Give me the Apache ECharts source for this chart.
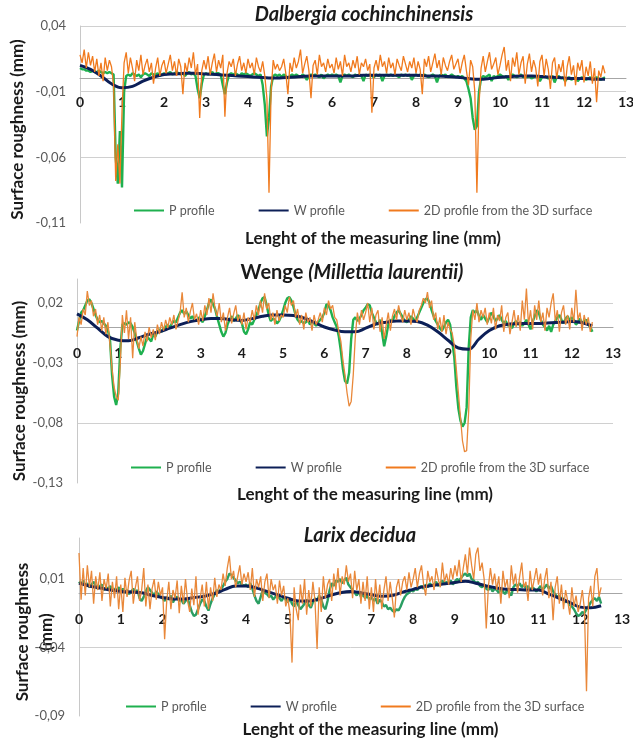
<!DOCTYPE html>
<html><head><meta charset="utf-8">
<script src="https://cdn.jsdelivr.net/npm/echarts@6/dist/echarts.min.js"></script>
<style>html,body{margin:0;padding:0;background:#fff}#c{width:633px;height:745px}</style>
</head><body><div id="c"></div><script>
// ---------- DATA (surface heights in micrometres) ----------
// P profile and 2D profile sampled every 0.05 mm (one row = 1 mm), W profile every 0.25 mm
const sampleStepMm = 0.05;
const waveStepMm = 0.25;
const seriesNames = ['P profile', 'W profile', '2D profile from the 3D surface'];
const chartTitles = ['Dalbergia cochinchinensis', 'Wenge (Millettia laurentii)', 'Larix decidua'];
const xTicks = [0, 1, 2, 3, 4, 5, 6, 7, 8, 9, 10, 11, 12, 13];
const yTicksDalbergia = [-0.11, -0.06, -0.01, 0.04];
const yTicksWenge = [-0.13, -0.08, -0.03, 0.02];
const yTicksLarix = [-0.09, -0.04, 0.01];

const dalbergiaP_um = [
 8,7,7,6,6,5,6,5,5,6,5,4,5,4,5,4,3,-60,-80,-40,
 -83,-10,2,3,2,4,3,2,3,1,3,4,3,2,4,3,3,4,2,3,
 4,3,4,5,3,4,5,4,3,4,2,4,5,3,4,2,-8,-15,-4,3,
 4,3,4,5,3,4,4,3,-5,-12,-3,3,4,3,4,3,2,4,3,4,
 3,2,3,4,3,2,3,-5,-20,-44,-30,-6,2,3,2,3,1,3,2,0,
 2,3,2,3,2,1,3,2,-1,2,3,2,3,2,1,3,0,2,3,2,
 3,2,3,2,-3,2,3,2,3,2,1,3,2,3,2,-2,3,2,3,2,
 1,3,2,3,-2,2,3,2,3,2,3,2,1,3,2,3,2,3,-1,2,
 3,2,3,2,3,2,1,2,3,2,-3,2,3,2,3,1,2,3,2,1,
 2,1,2,0,-2,-8,-15,-30,-39,-36,-10,0,2,1,2,3,-2,2,1,2,
 3,2,1,2,-1,2,3,2,1,2,3,1,2,1,2,0,1,2,1,-2,
 1,2,1,0,1,2,-3,1,2,0,1,-2,0,1,-1,0,1,-2,0,1,
 0,-1,0,1,-1,0,1,0,-1,0,1];
const dalbergiaW_um = [10,7,2,-4,-7,-6,-2,1,3,3.5, 4,4,3.5,3,2.5,2,1.5,1,0.5,0.5,
 1,1.5,2,2,2,2,2,2.5,2.5,2.5, 2.5,2.5,2.5,2,2,1.5,1,0,-0.5,0, 1,1.5,2,2,1.5,1,0.5,0,0,-0.5, -0.5];
const dalbergia2D_um = [
 18,12,22,8,20,10,17,5,15,2,12,-2,16,6,14,9,-5,-78,-50,-80,
 -25,12,20,4,16,8,-2,14,6,18,3,10,15,5,12,-4,8,16,2,10,
 14,4,11,18,6,13,2,15,9,-12,12,5,16,8,20,3,11,-30,6,14,
 7,17,3,12,19,5,14,8,18,-29,4,13,9,15,2,11,17,6,12,4,
 15,8,12,3,16,9,5,13,2,-15,-87,-10,14,7,11,6,9,15,4,-12,
 12,5,16,8,13,22,4,11,17,6,-15,10,14,3,18,9,12,5,15,8,
 11,4,16,7,13,2,18,9,12,5,14,8,17,3,12,9,15,6,11,-26,
 8,14,6,18,9,13,4,16,8,12,3,15,10,6,17,11,5,13,8,16,
 4,13,7,-12,15,9,17,5,12,19,8,14,3,16,10,6,13,18,7,11,
 15,4,12,18,6,-5,14,9,-10,-87,-20,8,17,5,13,20,7,11,16,3,
 10,18,24,6,14,-2,16,9,20,3,12,17,-4,11,19,5,14,8,-6,13,
 18,2,15,7,-8,12,16,0,11,5,14,-6,9,17,3,10,-5,12,6,14,
 -3,9,2,13,-4,8,-18,6,1,10,4];

const wengeP_um = [
 -3,5,12,14,18,22,23,20,15,10,6,4,5,3,1,-3,-10,-40,-58,-65,
 -55,-18,2,3,2,4,3,0,-5,-12,-18,-23,-20,-14,-8,-10,-12,-6,-8,-4,
 -2,-4,-1,0,2,-1,3,5,4,8,12,14,11,13,10,7,9,6,5,8,
 6,4,9,14,20,23,19,15,8,2,-4,-8,-5,2,6,9,5,7,10,6,
 3,-4,-6,-2,4,2,6,10,14,20,24,25,18,10,5,7,6,3,5,9,
 14,20,24,25,22,17,10,6,4,5,3,4,6,2,5,3,1,4,6,8,
 12,19,18,14,8,4,0,-8,-20,-35,-45,-47,-38,-10,6,8,5,7,10,14,
 16,19,18,12,8,4,2,6,-5,-16,-8,2,6,5,9,12,14,11,8,5,
 4,6,9,7,5,8,12,16,20,23,24,20,14,9,5,2,-1,-3,0,4,
 6,2,-12,-25,-50,-68,-78,-83,-80,-67,-17,8,14,12,14,9,6,10,7,4,
 8,12,9,5,7,10,6,3,5,1,2,-1,3,5,2,4,1,3,6,2,
 -2,4,9,14,12,6,2,0,-3,1,-4,2,5,8,10,6,3,7,9,5,
 8,6,2,4,7,3,5,6,2,0,-4];
const wengeW_um = [11,6,-1,-8,-11,-11.5,-9,-6,-4,-1, 2,4.5,6,7,7,6,5.5,7,9,10,
 10,9.5,7.5,4,0,-2.5,-4,-4,-1,2.5, 4,5,5,4.5,1.5,-4,-11,-17.5,-18.5,-10, -3,1,2.5,3,3,3,3.5,4,4.5,3.5, 1];
const wenge2D_um = [
 -8,8,2,15,10,30,18,22,9,15,2,10,-3,8,-6,4,-15,-35,-50,-58,
 -61,-30,10,-5,14,-10,8,-26,4,-10,-18,-8,-16,-4,-12,0,-9,-2,-11,2,
 -6,4,-3,6,-1,8,2,10,-2,5,12,29,8,16,4,13,20,6,11,2,
 14,5,18,10,24,12,28,15,9,20,4,12,-3,8,16,3,11,18,5,10,
 2,12,-2,8,4,14,6,18,10,22,12,28,15,20,6,12,2,14,5,10,
 8,18,12,25,18,22,8,15,2,10,-2,12,4,8,-3,10,2,6,12,4,
 16,10,22,15,18,8,6,-4,-12,-28,-40,-55,-66,-62,-40,-8,12,2,14,6,
 12,20,4,16,-2,10,14,-4,8,-10,2,12,-3,9,15,6,18,10,4,14,
 6,12,2,15,8,4,14,18,24,20,29,16,22,6,12,-2,8,-4,10,-6,
 4,-2,-5,-15,-35,-55,-75,-95,-104,-103,-70,-10,14,6,20,4,14,8,16,2,
 12,3,16,-2,10,5,18,-4,8,12,-6,4,14,0,10,-3,22,6,32,2,
 14,-2,18,6,22,4,12,-3,16,8,20,28,5,14,-4,12,18,2,10,-2,
 16,4,31,6,12,-3,10,2,8,-4,4];

const larixP_um = [
 8,6,9,5,7,4,6,8,5,3,5,6,2,4,3,5,1,3,2,4,
 1,3,0,2,-1,1,3,0,2,-4,-6,-3,1,4,2,0,-2,1,-1,-3,
 -4,-6,-3,-5,-2,-7,-4,-3,-6,-5,-8,-6,-4,-9,-14,-17,-16,-12,-8,-5,
 -6,-10,-13,-8,-4,-1,2,0,3,5,8,10,14,13,11,9,7,8,6,5,
 6,4,7,3,-2,-6,-8,-3,2,0,-1,-3,-2,-5,-3,-1,-4,-6,-3,-5,
 -7,-4,-8,-10,-6,-9,-12,-10,-8,-5,-9,-11,-7,-4,-6,-2,-5,-10,-12,-6,
 2,7,5,9,8,10,7,9,11,6,4,2,0,-2,1,-3,-1,-4,-2,-5,
 -3,-6,-4,-8,-5,-7,-10,-9,-12,-11,-13,-14,-12,-13,-10,-6,-3,-1,0,2,
 1,3,2,4,5,3,6,4,7,5,6,8,5,7,9,6,8,7,9,6,
 8,10,9,11,13,14,12,14,10,9,7,8,5,4,6,3,2,4,1,3,
 2,0,3,1,-1,2,0,-2,4,6,5,7,4,6,3,5,2,4,3,1,
 3,5,2,4,6,3,5,1,-1,-3,-2,-5,-4,-7,-6,-9,-10,-12,-15,-17,
 -16,-14,-15,-12,-10,-7,-5,-4,-6,-3,-8];
const larixW_um = [7,5,3.5,2,1,0.5,0,-2,-3.5,-4.5, -4.5,-3.5,-2.5,-0.5,2.5,5,5,3.5,1,-1.5,
 -4,-6,-6,-4.5,-2,0,1,0,-1.5,-2.5, -2,0.5,2.5,4.5,5.5,6.5,7.5,8.5,7,5, 3.5,2.5,2.3,2,2,-1,-4,-7,-10.5,-11, -9.5];
const larix2D_um = [
 29,-5,18,-2,20,4,16,-8,12,2,15,-6,10,3,14,-10,8,-4,12,-12,
 6,-14,11,-3,9,16,-8,4,12,-6,2,18,-10,6,-12,3,10,-5,8,-2,
 4,-34,-6,8,-12,2,-4,9,-15,5,-8,10,-6,-14,3,-9,12,-16,-4,6,
 -10,8,-12,4,-6,11,-3,6,2,14,5,18,27,10,16,4,12,20,6,14,
 8,15,2,18,-3,10,4,12,-6,8,14,-4,10,2,6,-8,9,-2,5,-10,
 -4,-15,-51,4,-12,-20,6,-8,10,-16,2,-10,8,-6,-41,4,-14,12,-4,6,
 10,-6,14,2,18,-2,12,6,20,8,14,-4,16,2,10,-8,8,-6,12,-12,
 4,-14,10,-8,6,-12,2,12,-6,8,-4,-18,4,10,-2,8,12,2,15,4,
 10,18,4,14,20,6,-2,16,8,12,2,18,10,4,22,8,14,6,18,10,
 20,12,24,8,18,28,14,33,20,10,28,33,16,22,10,-26,4,18,6,14,
 2,12,-8,16,4,10,-4,20,6,14,0,12,22,4,8,-6,16,2,10,18,
 6,14,-2,10,18,-4,8,-20,4,12,-8,6,-12,2,-6,-16,4,-10,-2,-14,
 -8,2,-12,-72,-4,5,-10,12,18,-3,4];

// ---------- CHART ----------
const FONT = 'Lato, "Open Sans", sans-serif';
const toPairs = (vals, step) => vals.map((v, i) => [Math.round(i * step * 100) / 100, v / 1000]);
const fmtY = v => v.toFixed(2).replace('.', ',');

const panels = [
  {P: dalbergiaP_um, W: dalbergiaW_um, D: dalbergia2D_um, yTicks: yTicksDalbergia, yMax: 0.04,
   grid: {left: 80, top: 26, width: 546, height: 197}, green: '#1fb04f', orange: '#f07a1e',
   titleX: 364, titleY: 4, xLabelMargin: 17, xNameGap: 150, yNameGap: 52, yNamePad: [0, 10, 0, 0],
   legendLeft: 133, legendTop: 204, yName: 'Surface roughness (mm)'},
  {P: wengeP_um, W: wengeW_um, D: wenge2D_um, yTicks: yTicksWenge, yMax: 0.04,
   grid: {left: 77, top: 279, width: 536, height: 204}, green: '#1fb04f', orange: '#e9883a',
   titleX: 352, titleY: 262, xLabelMargin: 19, xNameGap: 158, yNameGap: 47, yNamePad: [0, 20, 0, 0],
   legendLeft: 130, legendTop: 461, yName: 'Surface roughness (mm)'},
  {P: larixP_um, W: larixW_um, D: larix2D_um, yTicks: yTicksLarix, yMax: 0.04,
   grid: {left: 79, top: 538, width: 543, height: 178}, green: '#2a9e62', orange: '#e9883a',
   titleX: 360, titleY: 525, xLabelMargin: 20, xNameGap: 127, yNameGap: 20, yNamePad: [0, 10, 0, 0],
   legendLeft: 125, legendTop: 700, yName: 'Surface roughness\n(mm)'}
];

const option = {
  animation: false,
  backgroundColor: '#fff',
  title: [], legend: [], grid: [], xAxis: [], yAxis: [], series: []
};

panels.forEach((p, k) => {
  const isFirst = k === 0;
  const yMin = p.yTicks[0];
  // place the horizontal axis line on y = 0 (as in the original chart)
  const zeroOffset = -p.grid.height * (0 - yMin) / (p.yMax - yMin);
  option.grid.push(Object.assign({outerBoundsMode: 'none', containLabel: false}, p.grid));
  const t = {left: p.titleX, top: p.titleY, textAlign: 'center', padding: 0};
  if (k === 1) {
    t.text = '{a|Wenge }{b|(Millettia laurentii)}';
    t.textStyle = {rich: {
      a: {fontFamily: FONT, fontSize: 20, fontWeight: 'bold', color: '#1a1a1a', lineHeight: 22},
      b: {fontFamily: FONT, fontSize: 20, fontWeight: 'bold', fontStyle: 'italic', color: '#1a1a1a', lineHeight: 22}}};
  } else {
    t.text = chartTitles[k];
    t.textStyle = {fontFamily: FONT, fontSize: 20, fontWeight: 'bold', fontStyle: 'italic', color: '#1a1a1a', lineHeight: 22};
  }
  option.title.push(t);
  option.legend.push({
    data: seriesNames, left: p.legendLeft, top: p.legendTop, width: 500, padding: 0,
    itemWidth: 30, itemHeight: 14, itemGap: 43, selectedMode: false,
    itemStyle: {opacity: 0},
    textStyle: {fontFamily: FONT, fontSize: 12.5, color: '#595959'}
  });
  option.xAxis.push({
    type: 'value', gridIndex: k, min: xTicks[0], max: xTicks[xTicks.length - 1], interval: 1,
    position: 'bottom', offset: zeroOffset,
    axisLine: {show: true, onZero: false, lineStyle: {color: '#a6a6a6', width: 1}},
    axisTick: {show: false}, splitLine: {show: false},
    axisLabel: {fontFamily: FONT, fontSize: 14, fontWeight: 'bold', color: '#1a1a1a', margin: p.xLabelMargin},
    name: 'Lenght of the measuring line (mm)', nameLocation: 'middle', nameGap: p.xNameGap, nameMoveOverlap: false,
    nameTextStyle: {fontFamily: FONT, fontSize: 17, fontWeight: 'bold', color: '#1a1a1a', lineHeight: 20, padding: [0, 0, 0, 40]}
  });
  option.yAxis.push({
    type: 'value', gridIndex: k, min: yMin, max: p.yMax, interval: 0.05,
    axisLine: {show: true, lineStyle: {color: '#c8c8c8'}}, axisTick: {show: false},
    splitLine: {show: true, showMaxLine: isFirst, showMinLine: false, lineStyle: {color: '#d0d0d0', width: 1}},
    axisLabel: {fontFamily: FONT, fontSize: 13, color: '#595959', margin: 14, formatter: fmtY,
      showMaxLabel: isFirst, showMinLabel: true},
    name: p.yName, nameLocation: 'middle', nameGap: p.yNameGap, nameRotate: 90, nameMoveOverlap: false,
    nameTextStyle: {fontFamily: FONT, fontSize: 17, fontWeight: 'bold', color: '#1a1a1a', lineHeight: k === 2 ? 24 : 20, padding: p.yNamePad}
  });
  option.series.push(
    {name: seriesNames[0], type: 'line', xAxisIndex: k, yAxisIndex: k, data: toPairs(p.P, sampleStepMm),
     symbol: 'none', lineStyle: {color: p.green, width: 2.4}, itemStyle: {color: p.green}, z: 2},
    {name: seriesNames[1], type: 'line', xAxisIndex: k, yAxisIndex: k, data: toPairs(p.W, waveStepMm),
     symbol: 'none', smooth: 0.4, lineStyle: {color: '#0c1f57', width: 3}, itemStyle: {color: '#0c1f57'}, z: 3},
    {name: seriesNames[2], type: 'line', xAxisIndex: k, yAxisIndex: k, data: toPairs(p.D, sampleStepMm),
     symbol: 'none', lineStyle: {color: p.orange, width: 1.3}, itemStyle: {color: p.orange}, z: 4}
  );
});

const chart = echarts.init(document.getElementById('c'), null, {renderer: 'canvas'});
chart.setOption(option);
</script></body></html>
